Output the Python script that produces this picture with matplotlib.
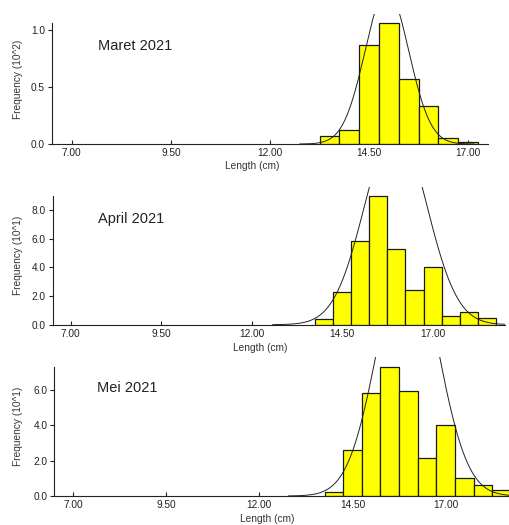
import numpy as np
import matplotlib.pyplot as plt

plt.rcParams['font.family'] = ['Liberation Sans', 'DejaVu Sans']

# kelas panjang (titik tengah, cm) dan frekuensi per bulan
mid_maret = [13.5, 14.0, 14.5, 15.0, 15.5, 16.0, 16.5, 17.0]
frek_maret = [0.07, 0.12, 0.87, 1.06, 0.57, 0.33, 0.05, 0.02]   # x 10^2

mid_april = [14.0, 14.5, 15.0, 15.5, 16.0, 16.5, 17.0, 17.5, 18.0, 18.5]
frek_april = [0.4, 2.3, 5.86, 9.0, 5.3, 2.45, 4.05, 0.59, 0.89, 0.45]   # x 10^1

mid_mei = [14.0, 14.5, 15.0, 15.5, 16.0, 16.5, 17.0, 17.5, 18.0, 18.5]
frek_mei = [0.21, 2.6, 5.81, 7.28, 5.92, 2.13, 4.0, 1.02, 0.62, 0.34]   # x 10^1

# kurva normal hasil fit: rata-rata, simpangan baku, tinggi puncak
fit_maret = (14.95, 0.55, 1.35)
fit_april = (15.98, 0.85, 13.9)
fit_mei = (15.98, 0.80, 14.0)

judul = ['Maret 2021', 'April 2021', 'Mei 2021']
label_y = ['Frequency (10^2)', 'Frequency (10^1)', 'Frequency (10^1)']
xticks = [7.00, 9.50, 12.00, 14.50, 17.00]
yticks = [[0.0, 0.5, 1.0], [0.0, 2.0, 4.0, 6.0, 8.0], [0.0, 2.0, 4.0, 6.0]]

W, H = 509, 525
fig = plt.figure(figsize=(W / 100, H / 100), dpi=100)

# posisi panel dalam piksel: kiri, kanan, bawah (y=0), atas
kotak = [(52, 488, 144, 14), (52.7, 505, 324.7, 187), (54.3, 509, 496, 357.3)]
xlims = [(6.5, 17.5), (6.5, 19.0), (6.5, 18.7)]
ylims = [1.14, 9.6, 7.85]
xlabel_pos = [(252, 166), (260, 348), (267, 519)]
teks_pos = [(98, 46), (98, 219), (97, 388)]

data = [(mid_maret, frek_maret, fit_maret),
        (mid_april, frek_april, fit_april),
        (mid_mei, frek_mei, fit_mei)]

for i, (mid, frek, fit) in enumerate(data):
    l, r, b, t = kotak[i]
    ax = fig.add_axes([l / W, (H - b) / H, (r - l) / W, (b - t) / H])
    ax.bar(mid, frek, width=0.5, color='#ffff00', edgecolor='#1a1a1a', linewidth=0.9, zorder=2)

    mu, sd, a = fit
    xs = np.linspace(mu - 4 * sd, mu + 4 * sd, 300)
    ax.plot(xs, a * np.exp(-(xs - mu) ** 2 / (2 * sd ** 2)), color='#222222', lw=0.7, zorder=3)

    ax.set_xlim(*xlims[i])
    ax.set_ylim(0, ylims[i])
    ax.set_xticks(xticks)
    ax.set_xticklabels(['%.2f' % v for v in xticks])
    ax.set_yticks(yticks[i])
    ax.set_yticklabels(['%.1f' % v for v in yticks[i]])
    ax.tick_params(axis='x', direction='in', length=3, labelsize=7.3, colors='#222222', pad=3)
    ax.tick_params(axis='y', direction='out', length=3, labelsize=7.3, colors='#222222', pad=2)
    for s in ['top', 'right']:
        ax.spines[s].set_visible(False)
    ax.spines['left'].set_bounds(0, max(frek))
    ax.spines['left'].set_color('#222222')
    ax.spines['bottom'].set_color('#222222')
    ax.patch.set_alpha(0)

    ax.set_ylabel(label_y[i], fontsize=7.3, color='#333333')
    ax.yaxis.set_label_coords((23 - l) / (r - l), 0.5)
    fig.text(xlabel_pos[i][0] / W, 1 - xlabel_pos[i][1] / H, 'Length (cm)', ha='center',
             va='center', fontsize=7.3, color='#333333')
    fig.text(teks_pos[i][0] / W, 1 - teks_pos[i][1] / H, judul[i], ha='left', va='center',
             fontsize=10.5, color='#222222')

fig.savefig('out.png', dpi=100)
